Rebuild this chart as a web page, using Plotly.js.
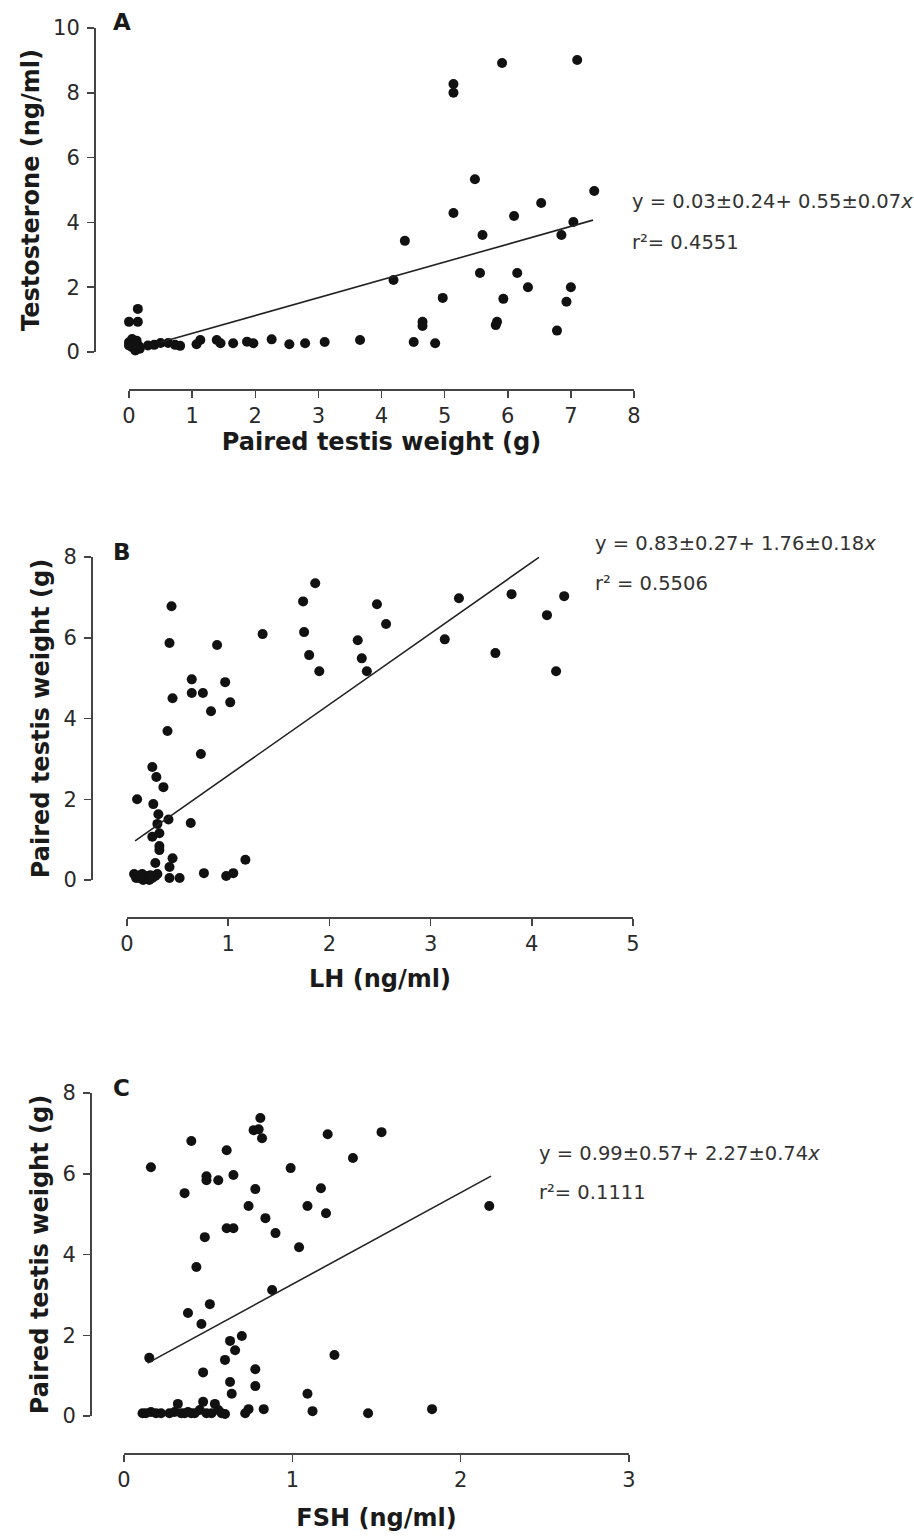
<!DOCTYPE html>
<html>
<head>
<meta charset="utf-8">
<script src="https://cdn.plot.ly/plotly-3.0.1.min.js"></script>
<style>html,body{margin:0;padding:0;background:#fff;}</style>
</head>
<body>
<div id="chart" style="width:914px;height:1537px;"></div>
<script>
// Panel A: paired testis weight (g) vs testosterone (ng/ml)
const aWeight = [0.0, 0.14, 0.14, 0.0, 0.05, 0.1, 0.12, 0.15, 0.17, 0.05, 0.1, 0.0,
  0.3, 0.4, 0.5, 0.62, 0.73, 0.81, 1.07, 1.13, 1.39, 1.45, 1.65, 1.87, 1.97, 2.26, 2.54, 2.79, 3.10, 3.66,
  4.19, 4.37, 4.51, 4.65, 4.65, 4.85, 4.97, 5.14, 5.14, 5.14, 5.91, 7.10, 5.48, 7.37, 6.53, 6.10, 7.04,
  5.60, 6.85, 5.56, 6.15, 6.32, 7.00, 5.93, 6.93, 5.83, 5.81, 6.78];
const aTestosterone = [0.93, 0.93, 1.33, 0.3, 0.15, 0.05, 0.35, 0.2, 0.1, 0.4, 0.25, 0.2,
  0.2, 0.22, 0.28, 0.28, 0.22, 0.19, 0.24, 0.37, 0.37, 0.27, 0.27, 0.32, 0.27, 0.39, 0.24, 0.27, 0.31, 0.37,
  2.22, 3.43, 0.31, 0.93, 0.80, 0.27, 1.67, 4.29, 8.27, 8.0, 8.92, 9.01, 5.33, 4.97, 4.6, 4.2, 4.01,
  3.61, 3.61, 2.44, 2.44, 2.0, 2.0, 1.64, 1.55, 0.93, 0.83, 0.66];
const aFitX = [0.5, 7.35];
const aFitY = [0.30, 4.07];

// Panel B: LH (ng/ml) vs paired testis weight (g)
const bLH = [0.44, 0.42, 0.89, 1.34, 1.86, 1.74, 1.75, 1.80, 1.90, 2.28, 2.47, 2.56, 2.32, 2.37, 3.14, 3.28,
  3.80, 4.32, 4.15, 3.64, 4.24, 0.64, 0.64, 0.75, 0.97, 0.45, 0.83, 1.02, 0.40, 0.73, 0.25, 0.29, 0.36,
  0.10, 0.26, 0.31, 0.41, 0.30, 0.63, 0.32, 0.25, 0.32, 0.32, 0.28, 0.45, 0.42, 1.17, 0.76, 1.05, 0.98,
  0.42, 0.52, 0.07, 0.10, 0.12, 0.15, 0.18, 0.20, 0.22, 0.25, 0.28, 0.30, 0.09, 0.16, 0.13, 0.23];
const bWeight = [6.78, 5.87, 5.82, 6.09, 7.35, 6.90, 6.14, 5.57, 5.17, 5.94, 6.83, 6.34, 5.49, 5.17, 5.96, 6.98,
  7.08, 7.03, 6.56, 5.62, 5.17, 4.97, 4.63, 4.63, 4.90, 4.50, 4.18, 4.40, 3.69, 3.12, 2.80, 2.55, 2.30,
  2.00, 1.88, 1.63, 1.50, 1.39, 1.41, 1.16, 1.07, 0.84, 0.74, 0.42, 0.54, 0.32, 0.50, 0.17, 0.17, 0.10,
  0.05, 0.05, 0.15, 0.10, 0.05, 0.15, 0.05, 0.10, 0.0, 0.05, 0.10, 0.15, 0.05, 0.0, 0.12, 0.12];
const bFitX = [0.08, 4.07];
const bFitY = [0.97, 7.99];

// Panel C: FSH (ng/ml) vs paired testis weight (g)
const cFSH = [0.16, 0.40, 0.36, 0.49, 0.49, 0.56, 0.61, 0.65, 0.81, 0.77, 0.80, 0.82, 0.78, 0.74, 0.84, 0.90,
  0.99, 1.21, 1.36, 1.53, 1.17, 1.09, 1.20, 1.04, 0.61, 0.65, 0.48, 0.43, 0.88, 0.38, 0.51, 0.46, 0.70,
  0.63, 0.66, 0.60, 0.15, 0.47, 0.78, 0.63, 0.78, 0.64, 1.09, 1.25, 0.83, 1.12, 1.45, 1.83, 2.17,
  0.11, 0.13, 0.16, 0.19, 0.22, 0.27, 0.30, 0.32, 0.34, 0.36, 0.38, 0.40, 0.42, 0.45, 0.47, 0.49,
  0.52, 0.54, 0.56, 0.58, 0.60, 0.72, 0.74];
const cWeight = [6.16, 6.81, 5.52, 5.94, 5.84, 5.84, 6.58, 5.97, 7.38, 7.08, 7.10, 6.88, 5.62, 5.20, 4.90, 4.53,
  6.14, 6.98, 6.39, 7.03, 5.64, 5.20, 5.02, 4.18, 4.65, 4.65, 4.43, 3.69, 3.12, 2.55, 2.77, 2.28, 1.98,
  1.86, 1.63, 1.39, 1.44, 1.08, 1.16, 0.84, 0.74, 0.55, 0.55, 1.51, 0.17, 0.12, 0.07, 0.17, 5.20,
  0.07, 0.07, 0.10, 0.07, 0.07, 0.07, 0.10, 0.30, 0.07, 0.07, 0.10, 0.07, 0.07, 0.15, 0.35, 0.07,
  0.07, 0.30, 0.15, 0.07, 0.05, 0.07, 0.17];
const cFitX = [0.14, 2.18];
const cFitY = [1.31, 5.94];

// Text
const panelLabels = ["A", "B", "C"];
const xTitles = ["Paired testis weight (g)", "LH (ng/ml)", "FSH (ng/ml)"];
const yTitles = ["Testosterone (ng/ml)", "Paired testis weight (g)", "Paired testis weight (g)"];
const equations = ["y = 0.03±0.24+ 0.55±0.07<i>x</i>", "y = 0.83±0.27+ 1.76±0.18<i>x</i>", "y = 0.99±0.57+ 2.27±0.74<i>x</i>"];
const rSquared = ["r²= 0.4551", "r² = 0.5506", "r²= 0.1111"];

const W = 914, H = 1537;
const fx = p => p / W;
const fy = p => 1 - p / H;
const FONT = "DejaVu Sans, Liberation Sans, Arial, sans-serif";
const INK = "#1a1a1a";
const AX = "#444";
const titleFont = {family: FONT, size: 24, color: INK, weight: 700};
const tickFont = {family: FONT, size: 21, color: "#2a2a2a"};

function dots(x, y, xa, ya) {
  return {x: x, y: y, xaxis: xa, yaxis: ya, type: "scatter", mode: "markers", cliponaxis: false,
    marker: {color: "#111", size: 10, line: {width: 0}}, hoverinfo: "x+y"};
}
function fit(x, y, xa, ya) {
  return {x: x, y: y, xaxis: xa, yaxis: ya, type: "scatter", mode: "lines", cliponaxis: false,
    line: {color: "#222", width: 1.6}, hoverinfo: "skip"};
}
const data = [
  dots(aWeight, aTestosterone, "x", "y"), fit(aFitX, aFitY, "x", "y"),
  dots(bLH, bWeight, "x2", "y2"), fit(bFitX, bFitY, "x2", "y2"),
  dots(cFSH, cWeight, "x3", "y3"), fit(cFitX, cFitY, "x3", "y3")
];

function xax(domL, domR, linePx, range, title, standoff) {
  return {domain: [fx(domL), fx(domR)], range: range, anchor: "free", position: fy(linePx),
    showgrid: false, zeroline: false, showline: true, linecolor: AX, linewidth: 1.5,
    ticks: "outside", ticklen: 7, tickwidth: 1.5, tickcolor: AX, dtick: 1, tick0: 0,
    tickfont: tickFont, automargin: false,
    title: {text: title, font: titleFont, standoff: standoff}, fixedrange: true};
}
function yax(domB, domT, linePx, range, title, standoff) {
  return {domain: [fy(domB), fy(domT)], range: range, anchor: "free", position: fx(linePx),
    showgrid: false, zeroline: false, showline: true, linecolor: AX, linewidth: 1.5,
    ticks: "outside", ticklen: 7, tickwidth: 1.5, tickcolor: AX, dtick: 2, tick0: 0,
    tickfont: tickFont, automargin: false, ticklabelstandoff: 3,
    title: {text: title, font: titleFont, standoff: standoff}, fixedrange: true};
}

const ann = [];
function txt(text, x, y, opts) {
  ann.push(Object.assign({text: text, x: fx(x), y: fy(y), xref: "paper", yref: "paper",
    showarrow: false, xanchor: "center", yanchor: "middle",
    font: {family: FONT, size: 20, color: INK}}, opts || {}));
}
const labelFont = {family: FONT, size: 23, color: INK, weight: 700};
const eqFont = {family: FONT, size: 19.5, color: "#333"};

txt(panelLabels[0], 122, 22, {font: labelFont});
txt(equations[0], 630, 202, {xanchor: "left", font: eqFont});
txt(rSquared[0], 630, 242, {xanchor: "left", font: eqFont});
txt(panelLabels[1], 122, 552, {font: labelFont});
txt(equations[1], 593, 543, {xanchor: "left", font: eqFont});
txt(rSquared[1], 593, 583, {xanchor: "left", font: eqFont});
txt(panelLabels[2], 121, 1088, {font: labelFont});
txt(equations[2], 537, 1153, {xanchor: "left", font: eqFont});
txt(rSquared[2], 537, 1192, {xanchor: "left", font: eqFont});

const layout = {
  width: W, height: H, autosize: false,
  margin: {l: 0, r: 0, t: 0, b: 0, pad: 0},
  paper_bgcolor: "#fff", plot_bgcolor: "rgba(0,0,0,0)",
  showlegend: false,
  font: {family: FONT, color: INK},
  xaxis: xax(129, 634, 389, [0, 8], xTitles[0], 4),
  yaxis: yax(352, 28, 94, [0, 10], yTitles[0], 5),
  xaxis2: xax(127, 633, 917, [0, 5], xTitles[1], 15),
  yaxis2: yax(880, 557, 91, [0, 8], yTitles[1], 5),
  xaxis3: xax(124, 629, 1453, [0, 3], xTitles[2], 18),
  yaxis3: yax(1416, 1093, 90, [0, 8], yTitles[2], 5),
  annotations: ann
};
Plotly.newPlot("chart", data, layout, {staticPlot: true, displayModeBar: false});
</script>
</body>
</html>
